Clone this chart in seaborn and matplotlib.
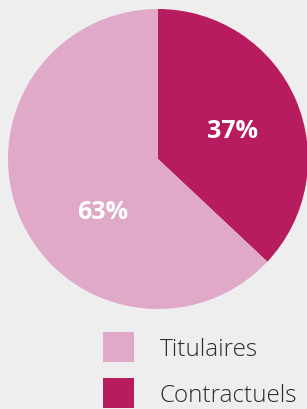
import matplotlib
matplotlib.use("Agg")
import matplotlib.pyplot as plt
from matplotlib.patches import Patch
import seaborn as sns

categories = ["Titulaires", "Contractuels"]
values = [63, 37]
labels_pct = ["63%", "37%"]
colors = ["#E0A9C8", "#B71C5E"]

sns.set_theme(style="white")
plt.rcParams['font.family'] = ['Open Sans', 'DejaVu Sans']

fig = plt.figure(figsize=(3.07, 4.10), dpi=100, facecolor="#EEEEEE")
ax = fig.add_axes([8/307, 100/410, 300/307, 300/410])
ax.set_facecolor("#EEEEEE")

# Draw Contractuels first from top, clockwise
order = [1, 0]
wedges, texts = ax.pie([values[i] for i in order],
                       colors=[colors[i] for i in order],
                       startangle=90, counterclock=False, radius=1,
                       wedgeprops=dict(linewidth=0))
ax.set_xlim(-1, 1)
ax.set_ylim(-1, 1)
ax.set_aspect("equal")
ax.axis("off")

pos = {1: (0.5, 0.187), 0: (-0.367, -0.347)}
for i in order:
    ax.text(pos[i][0], pos[i][1], labels_pct[i], ha="center", va="center",
            color="white", fontsize=18, fontweight="bold")

handles = [Patch(facecolor=colors[i], edgecolor="none") for i in range(2)]
leg = fig.legend(handles, categories, loc="upper left",
                 bbox_to_anchor=(103/307, 1 - 333/410),
                 frameon=False, borderpad=0, borderaxespad=0,
                 handlelength=1.27, handleheight=1.5, handletextpad=1.05,
                 labelspacing=0.68, prop=dict(size=17.5, weight="light"))
for t in leg.get_texts():
    t.set_color("#2E2E2E")

fig.savefig("out.png", dpi=100, facecolor="#EEEEEE")
